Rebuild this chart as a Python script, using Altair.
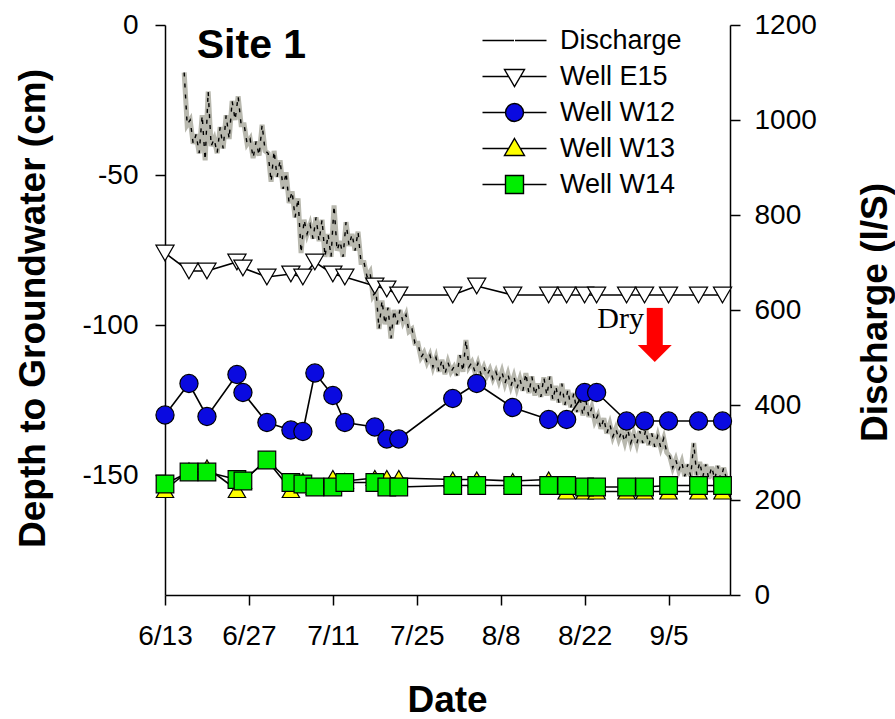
import altair as alt
import pandas as pd

START = pd.Timestamp("2008-06-13")

# ---- Well data (days after 6/13, depth in cm) ----
well_days = [0, 4, 7, 12, 13, 17, 21, 23, 25, 28, 30, 35, 37, 39,
             48, 52, 58, 64, 67, 70, 72, 77, 80, 84, 89, 93]
well_e15 = [-76, -82, -82, -79, -81, -84, -83, -84, -79, -83, -84, -87, -88, -90,
            -90, -87, -90, -90, -90, -90, -90, -90, -90, -90, -90, -90]
well_w12 = [-130, -119.5, -130.5, -116.5, -122.5, -132.5, -135, -135.5, -116, -123.5, -132.5, -134, -138, -138,
            -124.5, -119.5, -127.5, -131.5, -131.5, -122.5, -122.5, -132, -132, -132, -132, -132]
well_w13 = [-155, -148.5, -147.5, -155, -152, -145, -155, -152, -154, -151, -152, -151, -151, -151,
            -151.5, -151.5, -152, -151.5, -155.5, -155.5, -155.5, -155.5, -155.5, -155.5, -155.5, -155.5]
well_w14 = [-153, -149, -149, -151.5, -152, -145, -152.5, -153, -154, -154, -152.5, -152.5, -154, -154,
            -153.5, -153.5, -153.5, -153.5, -153.5, -154, -154, -154, -154, -153.5, -153.5, -153.5]

# ---- Discharge (l/S): daily high and low readings, days 3..93 ----
q_days = list(range(3, 94))
q_high = [1100, 1000, 970, 1010, 1060, 960, 985, 1010, 1040, 1050,
          990, 960, 955, 990, 930, 935, 915, 890, 850, 835,
          790, 780, 795, 790, 760, 820, 745, 785, 760, 765,
          700, 680, 640, 620, 605, 600, 600, 590, 560, 530,
          510, 505, 500, 495, 490, 480, 505, 537, 490, 488,
          480, 475, 470, 470, 465, 460, 455, 467, 460, 445,
          458, 460, 440, 445, 432, 425, 420, 410, 395, 378,
          372, 360, 350, 345, 348, 340, 345, 348, 340, 335,
          330, 292, 285, 280, 275, 320, 280, 275, 270, 272, 268]
q_low = [990, 950, 930, 915, 945, 930, 940, 960, 1000, 990,
         950, 920, 925, 935, 870, 880, 855, 825, 795, 720,
         760, 750, 745, 712, 712, 725, 712, 735, 725, 700,
         670, 630, 560, 570, 540, 570, 575, 555, 530, 500,
         490, 480, 470, 465, 470, 462, 470, 480, 470, 465,
         462, 455, 450, 445, 440, 435, 430, 425, 420, 417,
         420, 410, 405, 400, 395, 385, 378, 375, 365, 350,
         340, 333, 328, 322, 320, 318, 320, 315, 312, 310,
         300, 268, 262, 250, 250, 252, 248, 245, 243, 244, 242]

# ---- Annotations ----
site_label = ["Site 1"]
site_day = [5.3]
site_depth = [-7]
dry_label = ["Dry"]
dry_day = [76]
dry_depth = [-101]
arrow_day = [81.7]
arrow_top = [-94.3]
arrow_bottom = [-107.2]
arrow_head = [-109.5]

series_names = ["Discharge", "Well E15", "Well W12", "Well W13", "Well W14"]
series_fill = ["transparent", "white", "#0a0ae0", "#ffff00", "#00ee00"]
legend_paths = [
    "M-3.2,0H-0.05M0.05,0H3.2",
    "M-3.2,0H-0.59M0.59,0H3.2M-1,-0.7H1L0,1Z",
    "M-3.2,0H-0.9M0.9,0H3.2M-0.9,0A0.9,0.9 0 1,1 0.9,0A0.9,0.9 0 1,1 -0.9,0Z",
    "M-3.2,0H-0.59M0.59,0H3.2M0,-1L1,0.7H-1Z",
    "M-3.2,0H-0.9M0.9,0H3.2M-0.9,-0.9H0.9V0.9H-0.9Z",
]


def iso(d):
    return (START + pd.Timedelta(days=d)).strftime("%Y-%m-%dT%H:%M:%SZ")


rows = []
for name, vals in [("Well E15", well_e15), ("Well W12", well_w12),
                   ("Well W13", well_w13), ("Well W14", well_w14)]:
    for d, v in zip(well_days, vals):
        rows.append({"date": iso(d), "depth": v, "series": name})
wells = pd.DataFrame(rows)

qrows = []
for d, hi, lo in zip(q_days, q_high, q_low):
    qrows.append({"date": iso(d + 0.2), "q": hi})
    qrows.append({"date": iso(d + 0.7), "q": lo})
disch = pd.DataFrame(qrows)

site_df = pd.DataFrame({"date": [iso(d) for d in site_day], "depth": site_depth, "label": site_label})
dry_df = pd.DataFrame({"date": [iso(d) for d in dry_day], "depth": dry_depth, "label": dry_label})
arrow_df = pd.DataFrame({"date": [iso(d) for d in arrow_day], "top": arrow_top,
                         "bottom": arrow_bottom, "head": arrow_head})
legend_df = pd.DataFrame({"date": [iso(10)] * 5, "depth": [50] * 5, "series": series_names})

FONT = "Liberation Sans"
LABEL_SIZE = 28
TITLE_SIZE = 37

x_scale = alt.Scale(type="utc",
                    domain=[alt.DateTime(year=2008, month=6, date=13, utc=True),
                            alt.DateTime(year=2008, month=9, date=15, hours=6, utc=True)])
x_ticks = [alt.DateTime(year=2008, month=m, date=d, utc=True)
           for m, d in [(6, 13), (6, 27), (7, 11), (7, 25), (8, 8), (8, 22), (9, 5)]]
x_axis = alt.Axis(values=x_ticks, format="%-m/%-d", title="Date", grid=False, labelFlush=False,
                  labelFontSize=LABEL_SIZE, labelFont=FONT, labelPadding=17, tickSize=10,
                  titleFontSize=TITLE_SIZE, titleFont=FONT, titleFontWeight="bold",
                  titleX=282, titleY=105, titleBaseline="middle", titleAlign="center")
X = alt.X("date:T", scale=x_scale, axis=x_axis)

left_axis = alt.Axis(values=[0, -50, -100, -150], title="Depth to Groundwater (cm)", grid=False,
                     labelExpr="datum.value + ''", labelFlush=False,
                     labelFontSize=LABEL_SIZE, labelFont=FONT, labelPadding=17, tickSize=10,
                     titleFontSize=TITLE_SIZE, titleFont=FONT, titleFontWeight="bold",
                     titleAngle=270, titleX=-132, titleY=283, titleBaseline="middle",
                     titleAlign="center")
y_scale = alt.Scale(domain=[-190, 0])
Y = alt.Y("depth:Q", scale=y_scale, axis=left_axis)

right_axis = alt.Axis(orient="right", values=[0, 200, 400, 600, 800, 1000, 1200],
                      title="Discharge (l/S)", grid=False,
                      labelExpr="datum.value + ''", labelFlush=False,
                      labelFontSize=LABEL_SIZE, labelFont=FONT, labelPadding=14, tickSize=10,
                      titleFontSize=TITLE_SIZE, titleFont=FONT, titleFontWeight="bold",
                      titleAngle=270, titleX=145, titleY=287, titleBaseline="middle",
                      titleAlign="center")
YQ = alt.Y("q:Q", scale=alt.Scale(domain=[0, 1200]), axis=right_axis)

# discharge layers
q_gray = alt.Chart(disch).mark_line(color="#b8b8ae", strokeWidth=5).encode(x=X, y=YQ)
q_black = alt.Chart(disch).mark_line(color="black", strokeWidth=1.4, strokeDash=[4, 7]).encode(x=X, y=YQ)
right = alt.layer(q_gray, q_black)

# wells
styles = {
    "Well E15": ("triangle-down", "white", 330),
    "Well W12": ("circle", "#0a0ae0", 330),
    "Well W13": ("triangle-up", "#ffff00", 300),
    "Well W14": ("square", "#00ee00", 310),
}
order = ["Well E15", "Well W12", "Well W13", "Well W14"]
well_layers = []
for name in order:
    base = alt.Chart(wells).transform_filter(alt.datum.series == name)
    well_layers.append(base.mark_line(color="black", strokeWidth=1.6).encode(x=X, y=Y))
for name in order:
    shape, fill, size = styles[name]
    base = alt.Chart(wells).transform_filter(alt.datum.series == name)
    well_layers.append(base.mark_point(shape=shape, filled=True, fill=fill, stroke="black",
                                       strokeWidth=1.2, size=size, opacity=1).encode(x=X, y=Y))

legend = alt.Legend(title=None, orient="none", legendX=336, legendY=2, symbolSize=400,
                    labelFontSize=27, labelFont=FONT, labelColor="black", labelOffset=32,
                    rowPadding=8, padding=0, symbolStrokeWidth=1.4, symbolOpacity=1)
legend_layer = alt.Chart(legend_df).mark_point(filled=True, clip=True, opacity=1).encode(
    x=X, y=Y,
    shape=alt.Shape("series:N", scale=alt.Scale(domain=series_names, range=legend_paths), legend=legend),
    fill=alt.Fill("series:N", scale=alt.Scale(domain=series_names, range=series_fill), legend=legend),
    stroke=alt.Stroke("series:N", scale=alt.Scale(domain=series_names, range=["black"] * 5), legend=legend),
)

site_text = alt.Chart(site_df).mark_text(font=FONT, fontSize=41, fontWeight="bold", align="left",
                                         baseline="middle", color="black").encode(x=X, y=Y, text="label:N")
dry_text = alt.Chart(dry_df).mark_text(font="Liberation Serif", fontSize=30, align="center",
                                       baseline="alphabetic", color="black").encode(x=X, y=Y, text="label:N")
arrow_shaft = alt.Chart(arrow_df).mark_rule(color="#ff0000", strokeWidth=16, strokeCap="butt").encode(
    x=X, y=alt.Y("top:Q", scale=y_scale, axis=left_axis), y2="bottom:Q")
arrow_tip = alt.Chart(arrow_df).mark_point(shape="M-1,-0.5L1,-0.5L0,0.5Z", size=1156, filled=True,
                                           fill="#ff0000", strokeWidth=0, opacity=1).encode(
    x=X, y=alt.Y("head:Q", scale=y_scale, axis=left_axis))

left = alt.layer(*well_layers, legend_layer, site_text, dry_text, arrow_shaft, arrow_tip)

chart = alt.layer(right, left).resolve_scale(y="independent").properties(
    width=565, height=570,
    padding={"left": 165, "top": 25, "right": 165, "bottom": 124},
    autosize=alt.AutoSizeParams(type="none"),
).configure_view(stroke=None).configure_axis(
    domainColor="black", tickColor="black", labelColor="black", titleColor="black",
    domainWidth=1.5, tickWidth=1.5,
)

chart.save("out.html", embed_options={"renderer": "svg", "actions": False})
